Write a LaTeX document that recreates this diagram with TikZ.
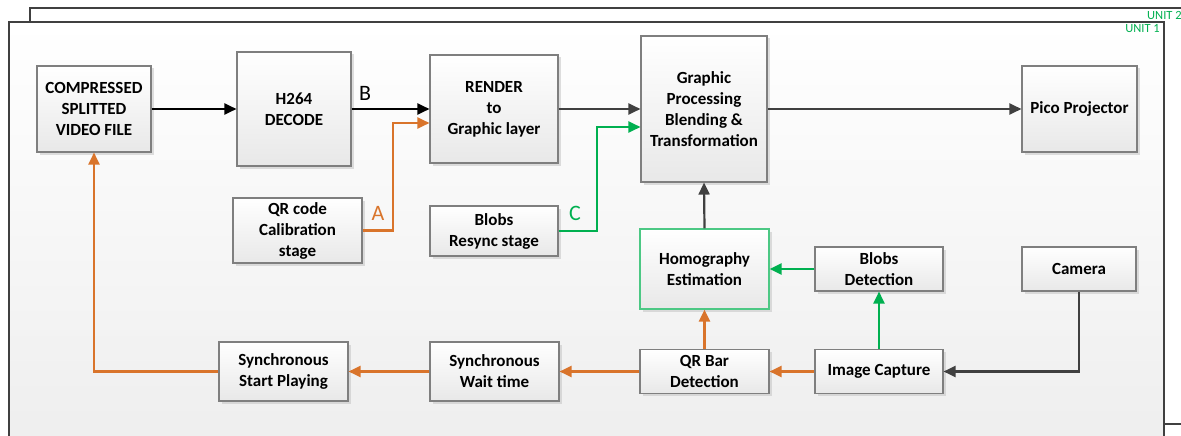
\documentclass[tikz,border=0pt]{standalone}
\usepackage{fontspec}
\setmainfont{Carlito}
\usetikzlibrary{arrows.meta,shadows}

\definecolor{edgegray}{HTML}{404040}
\definecolor{boxline}{HTML}{7F7F7F}
\definecolor{accorange}{HTML}{D9742B}
\definecolor{accgreen}{HTML}{00B050}

\begin{document}
\begin{tikzpicture}[x=1pt,y=-1pt,
  block/.style={draw=boxline, line width=1.1pt, top color=white, bottom color=black!9,
    drop shadow={shadow xshift=2.5pt, shadow yshift=-2.5pt, fill=black!25, opacity=0.5},
    align=center, inner sep=2pt, font=\fontsize{17}{21}\selectfont\bfseries},
  flow/.style={line width=2.2pt, -{Triangle[length=12pt,width=11pt]}},
  blackflow/.style={flow, draw=black},
  grayflow/.style={flow, draw=edgegray},
  orangeflow/.style={flow, draw=accorange},
  greenflow/.style={flow, draw=accgreen},
  tag/.style={font=\fontsize{22}{26}\selectfont, inner sep=0pt},
  unitlabel/.style={font=\fontsize{12.5}{14}\selectfont, text=accgreen, inner sep=0pt}
]
\useasboundingbox (0,0) rectangle (1181,436);
\clip (0,0) rectangle (1181,436);

% unit frames
\draw[edgegray, line width=2pt, fill=white] (30,8) rectangle (1200,424);
\node[unitlabel, anchor=west] (unit2) at (1147,15) {UNIT 2};
\draw[edgegray, line width=2.5pt, top color=white, bottom color=black!7] (9,22) rectangle (1164,470);
\node[unitlabel, anchor=east] (unit1) at (1160,29) {UNIT 1};

% processing blocks
\node[block, minimum width=114pt, minimum height=86pt]  (comp)   at (94,109)     {COMPRESSED\\SPLITTED\\VIDEO FILE};
\node[block, minimum width=114pt, minimum height=114pt] (h264)   at (294,109)    {H264\\DECODE};
\node[block, minimum width=128pt, minimum height=108pt] (render) at (494,109)    {RENDER\\to\\Graphic layer};
\node[block, minimum width=126pt, minimum height=146pt] (gproc)  at (704,109)    {Graphic\\Processing\\Blending \&\\Transformation};
\node[block, minimum width=115pt, minimum height=86pt]  (pico)   at (1079.5,109) {Pico Projector};
\node[block, minimum width=129pt, minimum height=65pt]  (qrcal)  at (297.5,230.5) {QR code\\Calibration\\stage};
\node[block, minimum width=128pt, minimum height=50pt]  (blobrs) at (494,231)    {Blobs\\Resync stage};
\node[block, draw=accgreen!70, line width=1.2pt, minimum width=129pt, minimum height=80pt] (homog) at (704.5,269) {Homography\\Estimation};
\node[block, minimum width=128pt, minimum height=44pt]  (blobdet) at (879,269)   {Blobs\\Detection};
\node[block, minimum width=114pt, minimum height=44pt]  (camera) at (1079,269)   {Camera};
\node[block, minimum width=129pt, minimum height=44pt]  (qrbar)  at (704.5,371.5) {QR Bar\\Detection};
\node[block, minimum width=128pt, minimum height=44pt]  (imgcap) at (879,371.5)  {Image Capture};
\node[block, minimum width=129pt, minimum height=59pt]  (syncwait)  at (494.5,371.5) {Synchronous\\Wait time};
\node[block, minimum width=129pt, minimum height=59pt]  (syncstart) at (283.5,371.5) {Synchronous\\Start Playing};

% bend points of the calibration and resync feeds
\coordinate (aturn) at (393,123);
\coordinate (cturn) at (597,127);

% video path
\draw[blackflow] (comp.east) -- (h264.west);
\draw[blackflow] (h264.east) -- (render.west);
\draw[grayflow] (render.east) -- (gproc.west);
\draw[grayflow] (gproc.east) -- (pico.west);
\draw[orangeflow] (qrcal.east) -| (aturn) -- (aturn -| render.west);
\draw[greenflow] (blobrs.east) -| (cturn) -- (cturn -| gproc.west);

% camera feedback path
\draw[grayflow] (camera.south) |- (imgcap.east);
\draw[greenflow] (imgcap.north) -- (blobdet.south);
\draw[greenflow] (blobdet.west) -- (homog.east);
\draw[grayflow] (homog.north) -- (gproc.south);
\draw[orangeflow] (imgcap.west) -- (qrbar.east);
\draw[orangeflow] (qrbar.north) -- (homog.south);
\draw[orangeflow] (qrbar.west) -- (syncwait.east);
\draw[orangeflow] (syncwait.west) -- (syncstart.east);
\draw[orangeflow] (syncstart.west) -| (comp.south);

% link tags
\node[tag, text=black] (tagB) at (365,93.5) {B};
\node[tag, text=accorange] (tagA) at (378,213) {A};
\node[tag, text=accgreen] (tagC) at (575,213) {C};
\end{tikzpicture}
\end{document}
